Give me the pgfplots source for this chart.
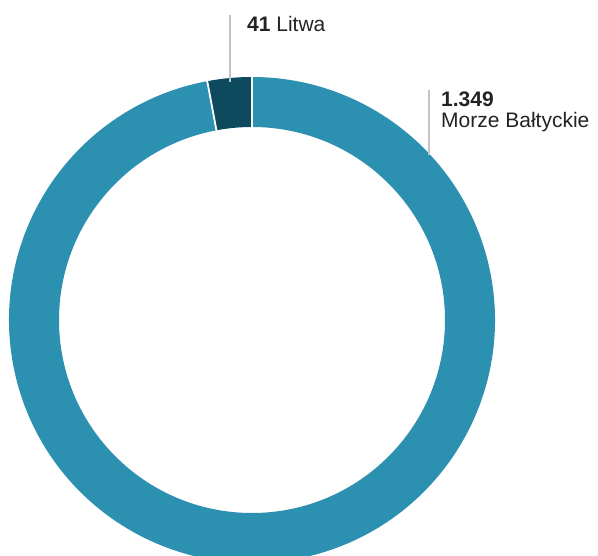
\documentclass[border=0pt]{standalone}
\usepackage{pgfplots}
\usepackage{pgfplotstable}
\pgfplotsset{compat=1.18}
\usepackage{fontspec}
\setmainfont{Liberation Sans}
\definecolor{ringA}{RGB}{44,145,177}
\definecolor{ringB}{RGB}{13,74,94}
\definecolor{leader}{RGB}{195,195,195}
\definecolor{txt}{RGB}{35,35,35}
\pgfplotstableread{
label value
Litwa 41
Baltyk 1349
}\datatable
\begin{document}
\begin{tikzpicture}
\pgfplotstablegetelem{0}{value}\of\datatable \let\vA\pgfplotsretval
\pgfplotstablegetelem{1}{value}\of\datatable \let\vB\pgfplotsretval
\pgfmathsetmacro{\tot}{\vA+\vB}
\pgfmathsetmacro{\aS}{90}
\pgfmathsetmacro{\aM}{90+\vA/\tot*360}
\pgfmathsetmacro{\aE}{450}
\def\cx{252}\def\cy{236}\def\Ro{243}\def\Ri{193}
\begin{axis}[
  scale only axis, width=598pt, height=556pt,
  xmin=0, xmax=598, ymin=0, ymax=556,
  hide axis, clip=true,
]
% Baltyk slice
\fill[ringA] (axis cs:{\cx+\Ro*cos(\aM)},{\cy+\Ro*sin(\aM)}) arc[start angle=\aM, end angle=\aE, radius=\Ro pt]
  -- (axis cs:{\cx+\Ri*cos(\aE)},{\cy+\Ri*sin(\aE)}) arc[start angle=\aE, end angle=\aM, radius=\Ri pt] -- cycle;
% Litwa slice
\fill[ringB] (axis cs:{\cx+\Ro*cos(\aS)},{\cy+\Ro*sin(\aS)}) arc[start angle=\aS, end angle=\aM, radius=\Ro pt]
  -- (axis cs:{\cx+\Ri*cos(\aM)},{\cy+\Ri*sin(\aM)}) arc[start angle=\aM, end angle=\aS, radius=\Ri pt] -- cycle;
% separators
\draw[white, line width=1.8pt] (axis cs:{\cx+(\Ri-2)*cos(\aS)},{\cy+(\Ri-2)*sin(\aS)}) -- (axis cs:{\cx+(\Ro+2)*cos(\aS)},{\cy+(\Ro+2)*sin(\aS)});
\draw[white, line width=1.8pt] (axis cs:{\cx+(\Ri-2)*cos(\aM)},{\cy+(\Ri-2)*sin(\aM)}) -- (axis cs:{\cx+(\Ro+2)*cos(\aM)},{\cy+(\Ro+2)*sin(\aM)});
% leaders
\draw[leader, line width=1.3pt] (axis cs:230,541) -- (axis cs:230,474);
\draw[leader, line width=1.3pt] (axis cs:429,466) -- (axis cs:429,401);
% labels
\node[anchor=base west, inner sep=0pt, text=txt, font=\fontsize{21}{25}\selectfont] at (axis cs:247,524.5) {\textbf{41} Litwa};
\node[anchor=base west, inner sep=0pt, text=txt, font=\fontsize{21}{25}\selectfont\bfseries] at (axis cs:441,449) {1.349};
\node[anchor=base west, inner sep=0pt, text=txt, font=\fontsize{21}{25}\selectfont] at (axis cs:441,428) {Morze Bałtyckie};
\end{axis}
\pgfresetboundingbox
\useasboundingbox (current axis.south west) rectangle (current axis.north east);
\end{tikzpicture}
\end{document}
